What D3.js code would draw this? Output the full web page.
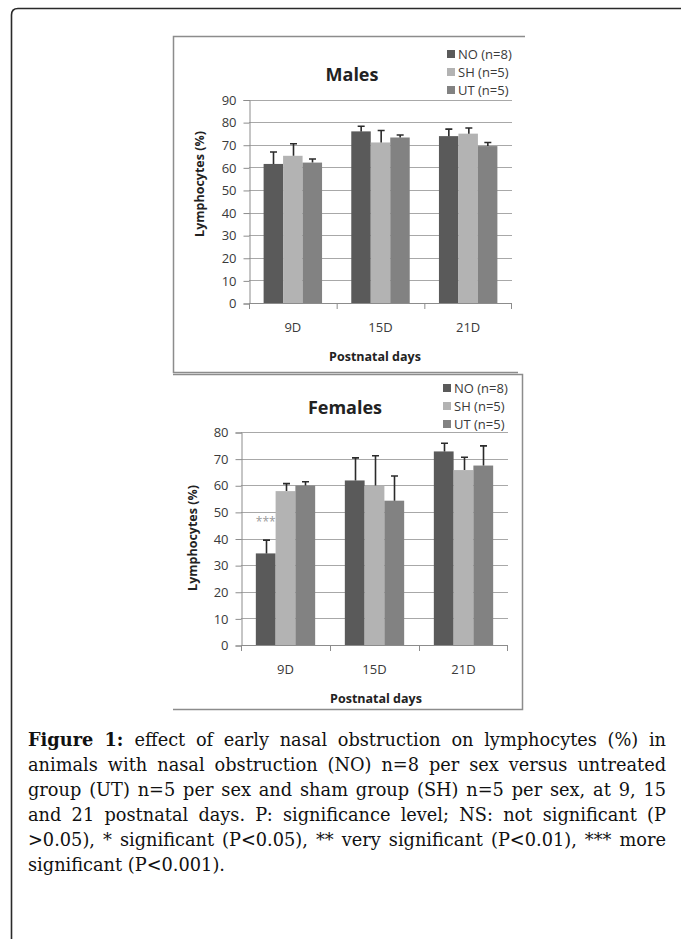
<!DOCTYPE html>
<html lang="en">
<head>
  <meta charset="utf-8">
  <title>Lymphocytes | Figure 1</title>
  <script src="https://cdnjs.cloudflare.com/ajax/libs/d3/7.8.5/d3.min.js"></script>
<style>
body{
  margin:0px;
  background-color:#fff;
  overflow:hidden;
}
svg{display:block}
.tick-label{font-family:"Open Sans",sans-serif;font-size:13px;fill:#3a3a3a}
.axis-title{font-family:"Open Sans",sans-serif;font-size:12.5px;font-weight:bold;fill:#222}
.chart-title{font-family:"Open Sans",sans-serif;font-size:18px;font-weight:bold;fill:#222}
.legend-text{font-family:"Open Sans",sans-serif;font-size:13px;fill:#3a3a3a}
.caption text{font-family:"DejaVu Serif",serif;fill:#111}
</style>
</head>
<body>
<svg id="fig" width="681" height="939"></svg>

<script>

  var days = ["9D", "15D", "21D"];
  var groups = ["NO (n=8)", "SH (n=5)", "UT (n=5)"];
  var groupColors = ["#5a5a5a", "#b3b3b3", "#828282"];

  // means and upper error (SD), one array per group
  var maleNO = [61.5, 75.9, 73.8];
  var maleNOerr = [5.3, 2.3, 3.1];
  var maleSH = [65.1, 71.0, 74.9];
  var maleSHerr = [5.3, 5.3, 2.5];
  var maleUT = [62.1, 73.2, 69.4];
  var maleUTerr = [1.6, 1.1, 1.6];

  var femaleNO = [34.4, 61.8, 72.7];
  var femaleNOerr = [5.0, 8.5, 3.1];
  var femaleSH = [57.8, 59.9, 65.7];
  var femaleSHerr = [2.8, 11.2, 4.8];
  var femaleUT = [59.9, 54.2, 67.4];
  var femaleUTerr = [1.4, 9.3, 7.4];

  var femaleNOsig = ["***", "", ""];

  var maleTicks = [0, 10, 20, 30, 40, 50, 60, 70, 80, 90];
  var femaleTicks = [0, 10, 20, 30, 40, 50, 60, 70, 80];

  var captionLines = [
    "effect of early nasal obstruction on lymphocytes (%) in",
    "animals with nasal obstruction (NO) n=8 per sex versus untreated",
    "group (UT) n=5 per sex and sham group (SH) n=5 per sex, at 9, 15",
    "and 21 postnatal days. P: significance level; NS: not significant (P",
    ">0.05), * significant (P<0.05), ** very significant (P<0.01), *** more",
    "significant (P<0.001)."
  ];

  var svg = d3.select("#fig");

  // page frame: rounded top-left corner, open at right and bottom
  svg.append("path")
      .attr("d", "M11.5,939 L11.5,15 Q11.5,8.5 18,8.5 L681,8.5")
      .attr("fill", "none")
      .attr("stroke", "#2a2a2a")
      .attr("stroke-width", 1.6);

  function rows(means, errs, sig) {
    return days.map(function(d, i) {
      return groups.map(function(g, j) {
        return {day: d, group: g, value: means[j][i], err: errs[j][i], sig: sig && j == 0 ? sig[i] : ""};
      });
    });
  }

  function drawPanel(p) {
    var g = svg.append("g");

    // chart area border
    g.append("path")
        .attr("d", p.frame)
        .attr("fill", "none")
        .attr("stroke", "#8c8c8c")
        .attr("stroke-width", 1.5);

    var y = d3.scaleLinear().domain([0, d3.max(p.ticks)]).range([p.bottom, p.top]);
    var x0 = d3.scaleBand().domain(days).range([p.left, p.right]).paddingInner(0).paddingOuter(0);
    var x1 = d3.scaleBand().domain(groups).range([0, x0.bandwidth()]).paddingInner(0).paddingOuter(0.75);

    // gridlines
    g.append("g").selectAll("line")
      .data(p.ticks.filter(function(t) { return t > 0; }))
      .enter().append("line")
        .attr("x1", p.left).attr("x2", p.right)
        .attr("y1", function(d) { return Math.round(y(d)) + 0.5; })
        .attr("y2", function(d) { return Math.round(y(d)) + 0.5; })
        .attr("stroke", "#a8a8a8")
        .attr("stroke-width", 1);

    // y axis
    var yAxis = g.append("g")
        .attr("transform", "translate(" + (p.left + 0.5) + ",0.5)")
        .call(d3.axisLeft(y).tickValues(p.ticks).tickSize(6).tickPadding(7));
    yAxis.select(".domain").attr("stroke", "#8c8c8c");
    yAxis.selectAll(".tick line").attr("stroke", "#8c8c8c");
    yAxis.selectAll(".tick text").attr("class", "tick-label").attr("font-size", null).attr("font-family", null).attr("fill", null);

    // x axis with category boundary ticks
    var xg = g.append("g");
    xg.append("line")
        .attr("x1", p.left).attr("x2", p.right)
        .attr("y1", p.bottom + 0.5).attr("y2", p.bottom + 0.5)
        .attr("stroke", "#8c8c8c");
    xg.selectAll(".bound")
      .data(days.concat(["end"]))
      .enter().append("line")
        .attr("x1", function(d) { return d == "end" ? p.right - 0.5 : x0(d) + 0.5; })
        .attr("x2", function(d) { return d == "end" ? p.right - 0.5 : x0(d) + 0.5; })
        .attr("y1", p.bottom).attr("y2", p.bottom + 6)
        .attr("stroke", "#8c8c8c");
    xg.selectAll("text")
      .data(days)
      .enter().append("text")
        .attr("class", "tick-label")
        .attr("x", function(d) { return x0(d) + x0.bandwidth() / 2; })
        .attr("y", p.bottom + 29)
        .attr("text-anchor", "middle")
        .text(function(d) { return d; });

    // bars
    var cat = g.selectAll(".cat")
      .data(p.data)
      .enter().append("g")
        .attr("class", "cat")
        .attr("transform", function(d) { return "translate(" + x0(d[0].day) + ",0)"; });

    cat.selectAll("rect")
      .data(function(d) { return d; })
      .enter().append("rect")
        .attr("x", function(d) { return x1(d.group); })
        .attr("y", function(d) { return y(d.value); })
        .attr("width", x1.bandwidth())
        .attr("height", function(d) { return y(0) - y(d.value); })
        .attr("fill", function(d) { return groupColors[groups.indexOf(d.group)]; });

    // error bars, upper half only
    cat.selectAll(".err")
      .data(function(d) { return d; })
      .enter().append("path")
        .attr("class", "err")
        .attr("d", function(d) {
          var cx = Math.round(x1(d.group) + x1.bandwidth() / 2) + 0.5;
          var ty = y(d.value + d.err);
          return "M" + cx + "," + y(d.value) + "V" + ty + "M" + (cx - 3.5) + "," + ty + "H" + (cx + 3.5);
        })
        .attr("fill", "none")
        .attr("stroke", "#2b2b2b")
        .attr("stroke-width", 1.6);

    cat.selectAll(".sig")
      .data(function(d) { return d.filter(function(e) { return e.sig; }); })
      .enter().append("text")
        .attr("class", "sig")
        .attr("x", function(d) { return x1(d.group) + x1.bandwidth() / 2; })
        .attr("y", function(d) { return y(d.value + d.err) - 14; })
        .attr("text-anchor", "middle")
        .attr("font-family", "Open Sans, sans-serif")
        .attr("font-size", "12px")
        .attr("fill", "#9a9a9a")
        .text(function(d) { return d.sig; });

    // titles
    g.append("text")
        .attr("class", "chart-title")
        .attr("x", p.titleX).attr("y", p.titleY)
        .attr("text-anchor", "middle")
        .text(p.title);

    g.append("text")
        .attr("class", "axis-title")
        .attr("x", p.xTitleX).attr("y", p.bottom + 58)
        .attr("text-anchor", "middle")
        .text("Postnatal days");

    g.append("text")
        .attr("class", "axis-title")
        .attr("transform", "translate(" + p.yTitleX + "," + p.yTitleY + ") rotate(-90)")
        .attr("text-anchor", "middle")
        .text("Lymphocytes (%)");

    // legend
    var leg = g.selectAll(".leg")
      .data(groups)
      .enter().append("g")
        .attr("class", "leg")
        .attr("transform", function(d, i) { return "translate(" + p.legX + "," + (p.legY + i * 18) + ")"; });
    leg.append("rect")
        .attr("x", 0).attr("y", -4)
        .attr("width", 8).attr("height", 8)
        .attr("fill", function(d, i) { return groupColors[i]; });
    leg.append("text")
        .attr("class", "legend-text")
        .attr("x", 11).attr("y", 4.5)
        .text(function(d) { return d; });
  }

  drawPanel({
    title: "Males",
    data: rows([maleNO, maleSH, maleUT], [maleNOerr, maleSHerr, maleUTerr]),
    ticks: maleTicks,
    left: 249, right: 512, top: 99.5, bottom: 303,
    frame: "M525,36.5 H173.5 V372.5 H518",
    titleX: 352, titleY: 81,
    xTitleX: 375,
    yTitleX: 204, yTitleY: 184,
    legX: 447, legY: 54
  });

  drawPanel({
    title: "Females",
    data: rows([femaleNO, femaleSH, femaleUT], [femaleNOerr, femaleSHerr, femaleUTerr], femaleNOsig),
    ticks: femaleTicks,
    left: 241, right: 508, top: 432, bottom: 645,
    frame: "M173,374.5 H522.5 V709.5 H173",
    titleX: 345, titleY: 414,
    xTitleX: 376,
    yTitleX: 197, yTitleY: 538,
    legX: 443, legY: 388
  });

  // caption, each line justified by stretching the word spaces
  var cap = svg.append("g").attr("class", "caption");
  var capLeft = 28, capRight = 666, capTop = 746, capStep = 25;

  var lines = cap.selectAll(".line")
    .data(captionLines)
    .enter().append("text")
      .attr("class", "line")
      .attr("x", capLeft)
      .attr("y", function(d, i) { return capTop + i * capStep; });

  lines.each(function(d, i) {
    var t = d3.select(this);
    if (i == 0) {
      t.append("tspan").attr("font-weight", "bold").text("Figure 1: ");
    }
    t.append("tspan").text(d);
  });

  // largest font size that lets the widest line fit with a little room
  var fs = 20;
  function widest() {
    var m = 0;
    lines.each(function() { m = Math.max(m, this.getComputedTextLength()); });
    return m;
  }
  lines.style("font-size", fs + "px");
  while (fs > 12 && widest() > (capRight - capLeft) - 20) {
    fs -= 0.25;
    lines.style("font-size", fs + "px");
  }

  lines.each(function(d, i) {
    if (i < captionLines.length - 1) {
      var spaces = (d.match(/ /g) || []).length + (i == 0 ? 2 : 0);
      var extra = (capRight - capLeft) - this.getComputedTextLength();
      d3.select(this).attr("word-spacing", extra / spaces);
    }
  });

</script>
</body>
</html>
